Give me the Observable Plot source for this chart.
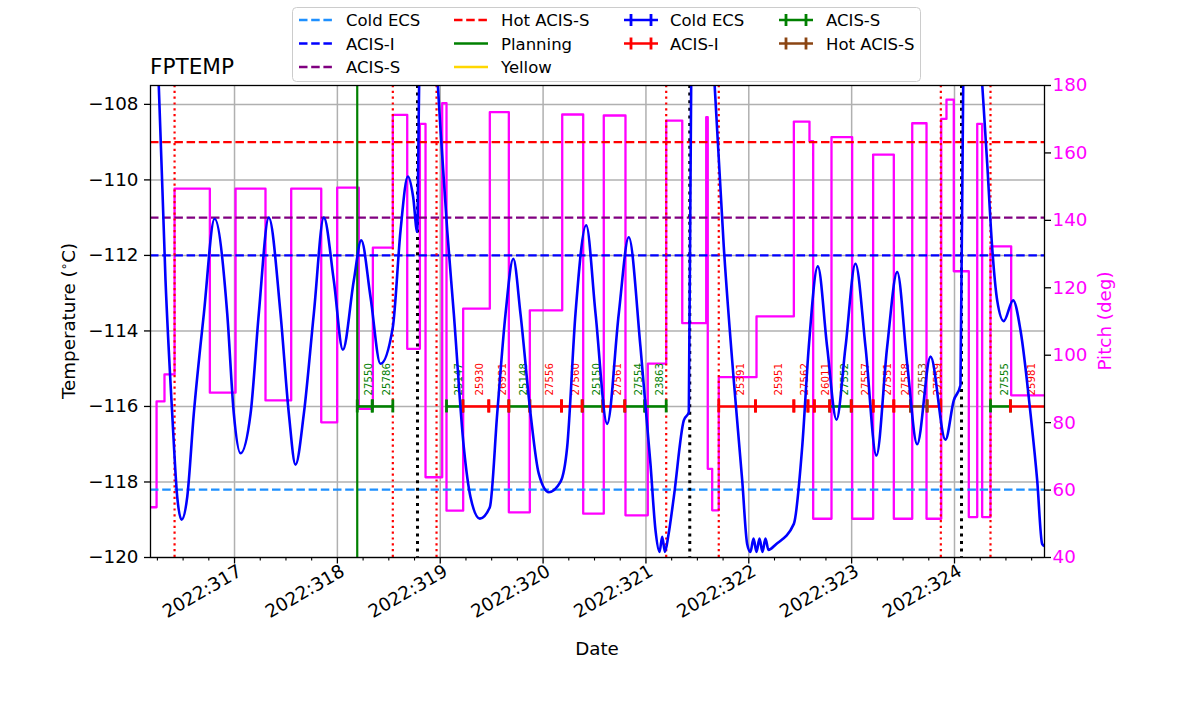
<!DOCTYPE html>
<html><head><meta charset="utf-8">
<script src="https://cdn.jsdelivr.net/npm/d3@7"></script>
<script src="https://cdn.jsdelivr.net/npm/@observablehq/plot@0.6"></script>
<style>
body{margin:0;background:#fff;font-family:"DejaVu Sans",sans-serif;}
#wrap{position:relative;width:1200px;height:714px;overflow:hidden;background:#fff;}
#wrap > svg{position:absolute;left:0;top:0;max-width:none;}
</style></head>
<body><div id="wrap"></div>
<script>
// ---------- data ----------
const dayTicks = [317, 318, 319, 320, 321, 322, 323, 324];
const minorDayTicks = [316.25,316.5,316.75,317.25,317.5,317.75,318.25,318.5,318.75,319.25,319.5,319.75,320.25,320.5,320.75,321.25,321.5,321.75,322.25,322.5,322.75,323.25,323.5,323.75,324.25,324.5,324.75];
const tempTicks = [-120, -118, -116, -114, -112, -110, -108];
const pitchTicks = [40, 60, 80, 100, 120, 140, 160, 180];

const tempDays = [316.183,316.264,316.329,316.394,316.443,316.485,316.540,316.604,316.702,316.806,316.929,316.993,317.058,317.156,317.236,317.333,317.447,317.528,317.593,317.674,317.771,317.868,317.965,318.053,318.160,318.232,318.322,318.419,318.539,318.614,318.685,318.737,318.776,318.796,318.886,318.976,319.003,319.068,319.132,319.229,319.294,319.385,319.482,319.554,319.635,319.710,319.780,319.878,319.958,320.056,320.169,320.234,320.315,320.419,320.510,320.623,320.736,320.833,320.947,321.044,321.093,321.132,321.158,321.185,321.219,321.271,321.368,321.417,321.440,321.550,321.667,321.757,321.854,321.936,321.984,322.016,322.046,322.075,322.104,322.133,322.162,322.191,322.260,322.438,322.519,322.583,322.671,322.762,322.853,322.940,323.037,323.135,323.241,323.345,323.443,323.540,323.637,323.767,323.912,323.993,324.058,324.085,324.175,324.269,324.318,324.366,324.415,324.479,324.570,324.642,324.739,324.804,324.852,324.875];
const tempValues = [-104.5,-107.55,-112.66,-116.19,-118.4,-119.0,-118.4,-116.19,-113.54,-111.03,-113.54,-116.19,-117.24,-116.19,-113.54,-111.0,-113.54,-116.19,-117.54,-116.19,-113.54,-111.0,-112.66,-114.5,-112.66,-111.6,-113.1,-114.87,-113.9,-111.34,-109.91,-110.46,-111.38,-107.37,-103.0,-107.45,-108.69,-111.34,-113.54,-117.08,-118.40,-118.97,-118.67,-116.19,-113.54,-112.09,-113.54,-116.19,-117.78,-118.27,-118.0,-117.08,-113.54,-111.2,-113.54,-116.46,-113.54,-111.52,-114.43,-117.52,-119.28,-119.85,-119.45,-119.85,-119.4,-118.40,-116.37,-116.15,-107.37,-103.0,-107.45,-111.78,-115.31,-117.96,-119.64,-119.85,-119.5,-119.85,-119.5,-119.85,-119.5,-119.8,-119.66,-119.11,-117.08,-114.43,-112.29,-114.43,-116.35,-114.43,-112.22,-114.43,-117.3,-114.43,-112.44,-114.87,-117.0,-114.68,-116.88,-115.84,-115.44,-107.37,-103.5,-107.45,-109.57,-111.78,-113.19,-113.74,-113.19,-113.99,-116.19,-117.96,-119.64,-119.7];

const pitchDays = [316.183,316.242,316.319,316.417,316.760,317.010,317.301,317.551,317.843,317.998,318.208,318.345,318.539,318.679,318.802,318.857,319.019,319.061,319.223,319.482,319.667,319.871,320.186,320.390,320.590,320.801,321.018,321.197,321.353,321.586,321.601,321.644,321.708,322.075,322.438,322.590,322.626,322.804,323.005,323.209,323.410,323.589,323.728,323.871,323.922,323.993,324.139,324.221,324.269,324.350,324.551,324.875];
const pitchValues = [54.9,86.3,94.3,149.4,88.9,149.4,86.6,149.4,80.1,149.7,84.1,131.9,171.3,101.9,168.6,63.8,174.8,53.9,113.8,172.1,53.4,113.3,171.4,53.0,171.1,52.5,97.5,169.6,109.5,170.6,66.3,54.0,93.5,111.5,169.3,163.5,51.5,164.7,51.5,159.5,51.5,168.8,51.5,170.1,175.8,124.9,52.0,168.6,52.0,132.3,88.1,88.1];

const limitNames = ["Cold ECS", "ACIS-I", "ACIS-S", "Hot ACIS-S"];
const limitValues = [-118.2, -112, -111, -109];

const planningDays = [318.193];
const radDays = [316.417, 318.539, 318.964, 321.197, 321.708, 323.867, 324.350];
const perigeeDays = [318.779, 321.426, 324.068];

const obsLevel = -116;
const obsStart = [318.193,318.339,319.061,319.220,319.472,319.667,319.871,320.179,320.380,320.581,320.794,320.989,321.708,322.065,322.438,322.575,322.637,322.786,322.996,323.209,323.410,323.572,323.734,324.350,324.544];
const obsEnd   = [318.339,318.539,319.220,319.472,319.667,319.871,320.179,320.380,320.581,320.794,320.989,321.197,322.065,322.438,322.575,322.637,322.786,322.996,323.209,323.410,323.572,323.734,323.867,324.544,324.875];
const obsIds   = ["27550","25786","25147","25930","26931","25148","27556","27560","25150","27561","27554","23863","25391","25951","27562","","26011","27552","27557","27551","27558","27553","27559","27555","25981"];
const obsInstr = ["ACIS-S","ACIS-S","ACIS-S","ACIS-I","ACIS-I","ACIS-S","ACIS-I","ACIS-I","ACIS-S","ACIS-I","ACIS-S","ACIS-S","ACIS-I","ACIS-I","ACIS-I","ACIS-I","ACIS-I","ACIS-S","ACIS-I","ACIS-I","ACIS-I","Hot ACIS-S","ACIS-I","ACIS-S","ACIS-I"];

// ---------- styles ----------
const limitColor = {"Cold ECS": "#1e90ff", "ACIS-I": "#0000ff", "ACIS-S": "#800080", "Hot ACIS-S": "#ff0000"};
const instrColor = {"Cold ECS": "#0000ff", "ACIS-I": "#ff0000", "ACIS-S": "#008000", "Hot ACIS-S": "#8b4513"};
const FONT = "DejaVu Sans";
const W = 1200, H = 714;
const M = {marginLeft: 150, marginRight: 156, marginTop: 85, marginBottom: 157};
const xDomain = [316.183, 324.875];
const minus = d => d < 0 ? "\u2212" + Math.abs(d) : String(d);

const tempData = tempDays.map((d, i) => ({day: d, temp: tempValues[i]}));
const pitchData = pitchDays.map((d, i) => ({day: d, pitch: pitchValues[i]}));
const limits = limitNames.map((n, i) => ({name: n, value: limitValues[i]}));
const obs = obsStart.map((s, i) => ({start: s, end: obsEnd[i], id: obsIds[i], instr: obsInstr[i], level: obsLevel}));
const instruments = ["ACIS-S", "ACIS-I", "Hot ACIS-S"];

const wrap = document.getElementById("wrap");
const baseStyle = {background: "transparent", fontFamily: FONT, fontSize: "18.3px", color: "black", overflow: "visible"};

// layer 1: grid
const gridLayer = Plot.plot({
  width: W, height: H, ...M, style: baseStyle,
  x: {domain: xDomain, axis: null},
  y: {domain: [-120, -107.5], axis: null},
  marks: [
    Plot.ruleX(dayTicks, {stroke: "#b0b0b0", strokeWidth: 1.5}),
    Plot.ruleY(tempTicks, {stroke: "#b0b0b0", strokeWidth: 1.5})
  ]
});

// layer 2: pitch
const pitchLayer = Plot.plot({
  width: W, height: H, ...M, style: baseStyle,
  x: {domain: xDomain, axis: null},
  y: {domain: [40, 180], axis: null},
  marks: [
    Plot.line(pitchData, {x: "day", y: "pitch", curve: "step-after", stroke: "#ff00ff", strokeWidth: 2.3, clip: true}),
    Plot.axisY({anchor: "right", ticks: pitchTicks, tickSize: 6, tickPadding: 2, stroke: "black", fill: "#ff00ff", strokeWidth: 1.3, label: null, textAnchor: "start"})
  ]
});

// layer 3: main
const mainMarks = [];
for (const l of limits) {
  mainMarks.push(Plot.ruleY([l], {y: "value", stroke: limitColor[l.name], strokeWidth: 2.3, strokeDasharray: "8.5,3.7"}));
}
mainMarks.push(Plot.ruleX(planningDays, {stroke: "#008000", strokeWidth: 2.2}));
mainMarks.push(Plot.ruleX(radDays, {stroke: "#ff0000", strokeWidth: 2.2, strokeDasharray: "2.2,3.6"}));
mainMarks.push(Plot.ruleX(perigeeDays, {stroke: "black", strokeWidth: 3, strokeDasharray: "3,4.6"}));
for (const ins of instruments) {
  const sub = obs.filter(o => o.instr === ins);
  const c = instrColor[ins];
  mainMarks.push(Plot.ruleY(sub, {x1: "start", x2: "end", y: "level", stroke: c, strokeWidth: 2.6, clip: true}));
  mainMarks.push(Plot.ruleX(sub, {x: "start", y1: "level", y2: "level", insetTop: -6.5, insetBottom: -6.5, stroke: c, strokeWidth: 2.8}));
  mainMarks.push(Plot.ruleX(sub.filter(o => o.end < xDomain[1]), {x: "end", y1: "level", y2: "level", insetTop: -6.5, insetBottom: -6.5, stroke: c, strokeWidth: 2.8}));
  mainMarks.push(Plot.text(sub, {x: o => (o.start + o.end) / 2, y: "level", text: "id", rotate: -90, textAnchor: "start", lineAnchor: "top", dy: -11, fontSize: 10.2, fill: c}));
}
mainMarks.push(Plot.line(tempData, {x: "day", y: "temp", curve: "monotone-x", stroke: "#0000ff", strokeWidth: 2.6, clip: true}));
mainMarks.push(Plot.frame({stroke: "black", strokeWidth: 1.3}));
mainMarks.push(Plot.axisY({ticks: tempTicks, tickSize: 6, tickPadding: 6, tickFormat: minus, strokeWidth: 1.3, label: null}));
mainMarks.push(Plot.axisX({ticks: minorDayTicks, tickSize: 3.5, tickFormat: () => "", strokeWidth: 1.1, label: null}));
mainMarks.push(Plot.axisX({ticks: dayTicks, tickSize: 6.5, tickFormat: () => "", strokeWidth: 1.3, label: null}));
mainMarks.push(Plot.text(dayTicks, {x: d => d, frameAnchor: "bottom", text: d => "2022:" + d, rotate: -30, textAnchor: "end", lineAnchor: "top", dy: 6, dx: 2, fontSize: 18.3, fill: "black"}));

const mainLayer = Plot.plot({
  width: W, height: H, ...M, style: baseStyle,
  x: {domain: xDomain, axis: null},
  y: {domain: [-120, -107.5], axis: null},
  marks: mainMarks
});

wrap.append(gridLayer, pitchLayer, mainLayer);

// overlay: title, axis labels, legend
const ov = d3.create("svg").attr("width", W).attr("height", H).attr("font-family", FONT);
ov.append("text").attr("x", 150).attr("y", 73.5).attr("font-size", 21.6).text("FPTEMP");
ov.append("text").attr("x", 597).attr("y", 655).attr("text-anchor", "middle").attr("font-size", 18.3).text("Date");
const tl = ov.append("text").attr("transform", "translate(75,321) rotate(-90)").attr("text-anchor", "middle").attr("font-size", 18.3);
tl.append("tspan").text("Temperature (");
tl.append("tspan").attr("font-size", 12).attr("baseline-shift", "super").text("\u2218");
tl.append("tspan").text("C)");
ov.append("text").attr("transform", "translate(1111,321) rotate(-90)").attr("text-anchor", "middle").attr("font-size", 18.3).attr("fill", "#ff00ff").text("Pitch (deg)");

// legend
const legendNames = ["Cold ECS","ACIS-I","ACIS-S","Hot ACIS-S","Planning","Yellow","Cold ECS","ACIS-I","ACIS-S","Hot ACIS-S"];
const legendKinds = ["dash","dash","dash","dash","solid","solid","err","err","err","err"];
const legendColors = ["#1e90ff","#0000ff","#800080","#ff0000","#008000","#ffd700","#0000ff","#ff0000","#008000","#8b4513"];
const legendCol = [0,0,0,1,1,1,2,2,3,3];
const legendRow = [0,1,2,0,1,2,0,1,0,1];
const colHandleX = [299, 454, 624, 779];
const colTextX = [346, 501, 670, 826];
const rowY = [20, 43.5, 67];
ov.append("rect").attr("x", 292.5).attr("y", 7.5).attr("width", 628).attr("height", 74).attr("rx", 4)
  .attr("fill", "white").attr("fill-opacity", 0.8).attr("stroke", "#cccccc").attr("stroke-width", 1);
legendNames.forEach((name, i) => {
  const hx = colHandleX[legendCol[i]], tx = colTextX[legendCol[i]], y = rowY[legendRow[i]];
  const c = legendColors[i];
  const g = ov.append("g");
  const ln = g.append("line").attr("x1", hx).attr("x2", hx + 34).attr("y1", y).attr("y2", y).attr("stroke", c).attr("stroke-width", legendKinds[i] === "err" ? 2.6 : 2.3);
  if (legendKinds[i] === "dash") ln.attr("stroke-dasharray", "8.5,3.7");
  if (legendKinds[i] === "err") {
    for (const cx of [hx + 7, hx + 27]) {
      g.append("line").attr("x1", cx).attr("x2", cx).attr("y1", y - 6).attr("y2", y + 6).attr("stroke", c).attr("stroke-width", 2.8);
    }
  }
  g.append("text").attr("x", tx).attr("y", y + 6).attr("font-size", 16.5).text(name);
});
wrap.append(ov.node());
</script>
</body></html>
